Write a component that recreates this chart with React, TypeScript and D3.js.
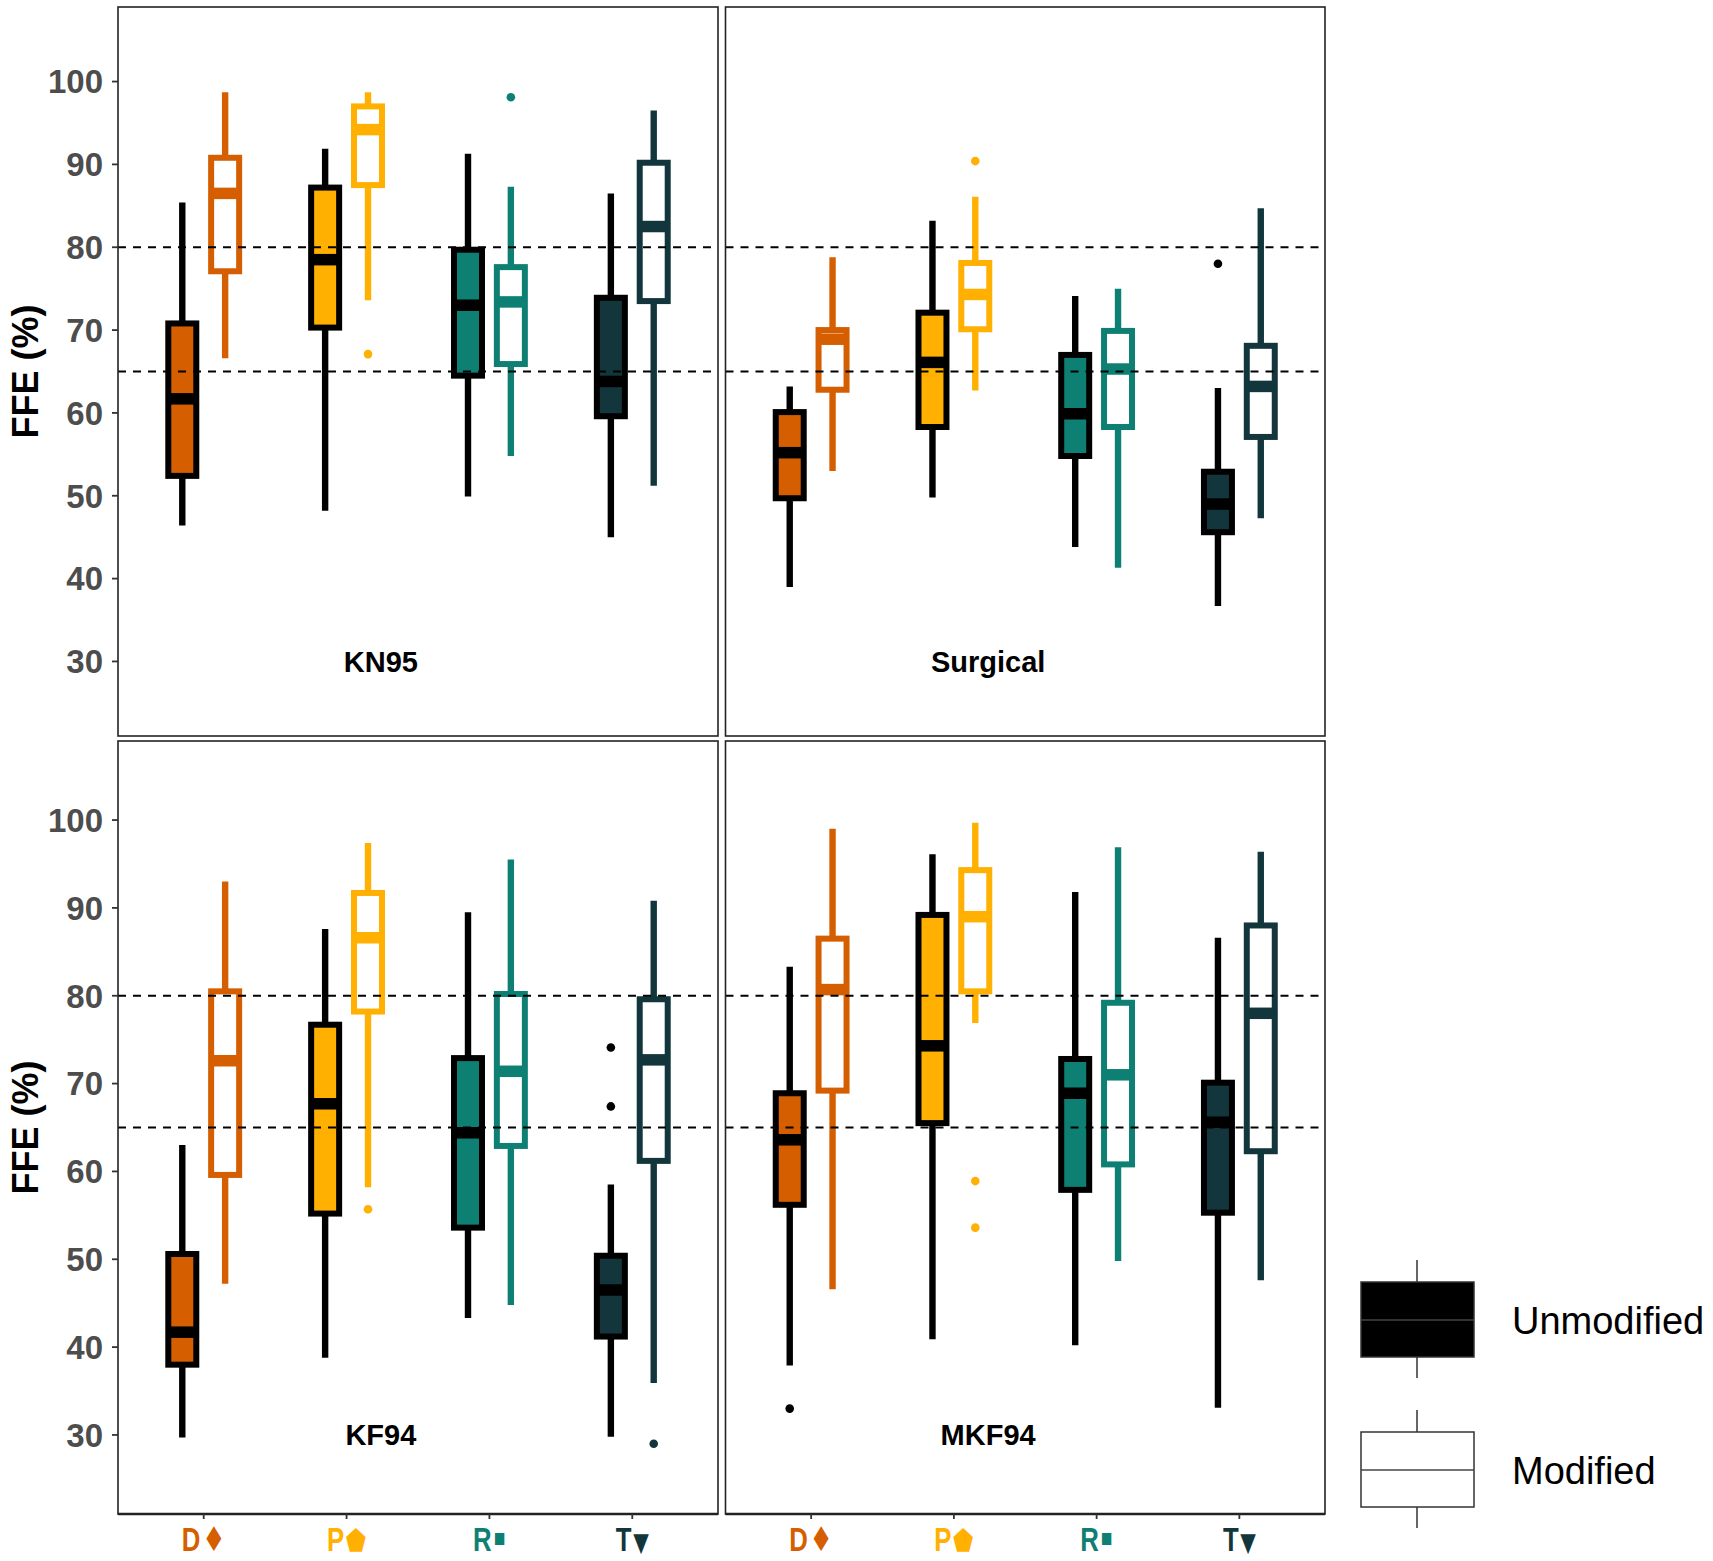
import { useEffect, useRef } from 'react';
import * as d3 from 'd3';

const CATEGORIES = ['D', 'P', 'R', 'T'];
const CATEGORY_SYMBOLS = ['♦', '⬟', '▪', '▼'];
const SYMBOL_SIZES = [34, 30, 24, 26];
const SYMBOL_SHIFT = [0, 0, -6, 0];
const CATEGORY_COLORS = ['#D55E00', '#FFB000', '#0E8073', '#12363C'];
const PANELS = ['KN95', 'Surgical', 'KF94', 'MKF94'];
const Y_TICKS = [30, 40, 50, 60, 70, 80, 90, 100];
const REF_LINES = [65, 80];
const LEGEND_LABELS = ['Unmodified', 'Modified'];

// [lower whisker, q1, median, q3, upper whisker] for D, P, R, T
const KN95_UNMODIFIED = [
  [46.4, 52.4, 61.7, 70.8, 85.4],
  [48.2, 70.3, 78.5, 87.2, 91.9],
  [49.9, 64.5, 73.0, 79.7, 91.3],
  [45.0, 59.6, 63.8, 73.9, 86.5],
];
const KN95_MODIFIED = [
  [66.6, 77.1, 86.5, 90.8, 98.7],
  [73.6, 87.5, 94.2, 97.0, 98.7],
  [54.8, 65.9, 73.4, 77.6, 87.3],
  [51.2, 73.5, 82.5, 90.2, 96.5],
];
const SURGICAL_UNMODIFIED = [
  [39.0, 49.7, 55.2, 60.1, 63.2],
  [49.8, 58.3, 66.1, 72.1, 83.2],
  [43.8, 54.8, 59.9, 67.0, 74.1],
  [36.7, 45.6, 49.0, 52.9, 63.0],
];
const SURGICAL_MODIFIED = [
  [53.0, 62.8, 68.9, 70.0, 78.8],
  [62.7, 70.1, 74.3, 78.1, 86.1],
  [41.3, 58.3, 65.3, 69.9, 75.0],
  [47.3, 57.1, 63.2, 68.1, 84.7],
];
const KF94_UNMODIFIED = [
  [29.7, 38.0, 41.7, 50.6, 63.0],
  [38.8, 55.2, 67.7, 76.7, 87.6],
  [43.3, 53.6, 64.4, 72.9, 89.5],
  [29.8, 41.2, 46.5, 50.4, 58.5],
];
const KF94_MODIFIED = [
  [47.2, 59.6, 72.6, 80.5, 93.0],
  [58.2, 78.2, 86.6, 91.7, 97.4],
  [44.8, 62.9, 71.4, 80.2, 95.5],
  [35.9, 61.2, 72.7, 79.6, 90.8],
];
const MKF94_UNMODIFIED = [
  [37.9, 56.2, 63.6, 68.9, 83.3],
  [40.9, 65.5, 74.3, 89.2, 96.1],
  [40.2, 57.9, 68.9, 72.8, 91.8],
  [33.1, 55.3, 65.6, 70.1, 86.6],
];
const MKF94_MODIFIED = [
  [46.6, 69.2, 80.7, 86.5, 99.0],
  [76.9, 80.5, 89.0, 94.3, 99.7],
  [49.8, 60.8, 71.0, 79.2, 96.9],
  [47.6, 62.3, 78.0, 88.0, 96.4],
];

// outliers as [category index, value]
const KN95_UNMODIFIED_OUT: number[][] = [];
const KN95_MODIFIED_OUT = [[1, 67.1], [2, 98.1]];
const SURGICAL_UNMODIFIED_OUT = [[3, 78.0]];
const SURGICAL_MODIFIED_OUT = [[1, 90.4]];
const KF94_UNMODIFIED_OUT = [[3, 74.1], [3, 67.4]];
const KF94_MODIFIED_OUT = [[1, 55.7], [3, 29.0]];
const MKF94_UNMODIFIED_OUT = [[0, 33.0]];
const MKF94_MODIFIED_OUT = [[1, 58.9], [1, 53.6]];

const PANEL_DATA = [
  { unmod: KN95_UNMODIFIED, mod: KN95_MODIFIED, unmodOut: KN95_UNMODIFIED_OUT, modOut: KN95_MODIFIED_OUT },
  { unmod: SURGICAL_UNMODIFIED, mod: SURGICAL_MODIFIED, unmodOut: SURGICAL_UNMODIFIED_OUT, modOut: SURGICAL_MODIFIED_OUT },
  { unmod: KF94_UNMODIFIED, mod: KF94_MODIFIED, unmodOut: KF94_UNMODIFIED_OUT, modOut: KF94_MODIFIED_OUT },
  { unmod: MKF94_UNMODIFIED, mod: MKF94_MODIFIED, unmodOut: MKF94_UNMODIFIED_OUT, modOut: MKF94_MODIFIED_OUT },
];

const WIDTH = 1713;
const HEIGHT = 1561;
const COLS: [number, number][] = [[118, 718], [725.5, 1325]];
const ROWS: [number, number][] = [[7, 736], [741, 1514]];
const FONT = '"Liberation Sans", Arial, sans-serif';

export default function App() {
  const svgRef = useRef<SVGSVGElement>(null);

  useEffect(() => {
    if (!svgRef.current) return;
    const svg = d3.select(svgRef.current);
    svg.selectAll('*').remove();

    svg.append('rect').attr('width', WIDTH).attr('height', HEIGHT).attr('fill', '#fff');

    PANELS.forEach((name, i) => {
      const col = i % 2;
      const row = Math.floor(i / 2);
      const [x0, x1] = COLS[col];
      const [y0, y1] = ROWS[row];
      const data = PANEL_DATA[i];

      const x = d3.scalePoint<string>().domain(CATEGORIES).range([x0, x1]).padding(0.6);
      const step = x.step();
      const y = d3.scaleLinear().domain([21, 109]).range([y1, y0]);
      const boxW = 0.196 * step;

      const g = svg.append('g');

      const drawGroup = (stats: number[][], outs: number[][], modified: boolean) => {
        const offset = (modified ? 0.15 : -0.15) * step;
        stats.forEach((s, ci) => {
          const [lo, q1, med, q3, hi] = s;
          const cx = (x(CATEGORIES[ci]) as number) + offset;
          const color = CATEGORY_COLORS[ci];
          const line = modified ? color : '#000';

          g.append('line')
            .attr('x1', cx).attr('x2', cx)
            .attr('y1', y(hi)).attr('y2', y(lo))
            .attr('stroke', line).attr('stroke-width', 6.4);

          g.append('rect')
            .attr('x', cx - boxW / 2)
            .attr('y', y(q3))
            .attr('width', boxW)
            .attr('height', y(q1) - y(q3))
            .attr('fill', modified ? '#fff' : color)
            .attr('stroke', line)
            .attr('stroke-width', 6);

          g.append('line')
            .attr('x1', cx - boxW / 2).attr('x2', cx + boxW / 2)
            .attr('y1', y(med)).attr('y2', y(med))
            .attr('stroke', line).attr('stroke-width', 11.5);
        });

        outs.forEach(([ci, v]) => {
          g.append('circle')
            .attr('cx', (x(CATEGORIES[ci]) as number) + offset)
            .attr('cy', y(v))
            .attr('r', 4.3)
            .attr('fill', modified ? CATEGORY_COLORS[ci] : '#000');
        });
      };

      drawGroup(data.unmod, data.unmodOut, false);
      drawGroup(data.mod, data.modOut, true);

      // reference lines
      REF_LINES.forEach((v) => {
        g.append('line')
          .attr('x1', x0).attr('x2', x1)
          .attr('y1', y(v)).attr('y2', y(v))
          .attr('stroke', '#000')
          .attr('stroke-width', 1.8)
          .attr('stroke-dasharray', '8,7');
      });

      // panel label
      const xAnno = d3.scaleLinear().domain([1, 4])
        .range([x(CATEGORIES[0]) as number, x(CATEGORIES[3]) as number]);
      g.append('text')
        .attr('x', xAnno(2.24))
        .attr('y', y(30))
        .attr('dy', '0.35em')
        .attr('text-anchor', 'middle')
        .attr('font-family', FONT)
        .attr('font-weight', 'bold')
        .attr('font-size', 29)
        .attr('fill', '#000')
        .text(name);

      // border
      g.append('rect')
        .attr('x', x0).attr('y', y0)
        .attr('width', x1 - x0).attr('height', y1 - y0)
        .attr('fill', 'none')
        .attr('stroke', '#222')
        .attr('stroke-width', 1.6);

      // y axis on left column
      if (col === 0) {
        Y_TICKS.forEach((t) => {
          g.append('line')
            .attr('x1', x0 - 6).attr('x2', x0)
            .attr('y1', y(t)).attr('y2', y(t))
            .attr('stroke', '#333').attr('stroke-width', 1.8);
          g.append('text')
            .attr('x', x0 - 15)
            .attr('y', y(t))
            .attr('dy', '0.36em')
            .attr('text-anchor', 'end')
            .attr('font-family', FONT)
            .attr('font-weight', 'bold')
            .attr('font-size', 33)
            .attr('fill', '#4D4D4D')
            .text(t);
        });
        g.append('text')
          .attr('transform', `translate(${38},${(y0 + y1) / 2}) rotate(-90)`)
          .attr('text-anchor', 'middle')
          .attr('font-family', FONT)
          .attr('font-weight', 'bold')
          .attr('font-size', 36)
          .attr('fill', '#000')
          .text('FFE (%)');
      }

      // x axis on bottom row
      if (row === 1) {
        g.append('line')
          .attr('x1', x0).attr('x2', x1)
          .attr('y1', y1).attr('y2', y1)
          .attr('stroke', '#222').attr('stroke-width', 2.4);
        CATEGORIES.forEach((c, ci) => {
          const cx = x(c) as number;
          g.append('line')
            .attr('x1', cx).attr('x2', cx)
            .attr('y1', y1).attr('y2', y1 + 5)
            .attr('stroke', '#333').attr('stroke-width', 1.8);
          // condensed label: letter plus marker glyph
          const label = g.append('text')
            .attr('transform', `translate(${cx},${1551}) scale(0.78,1)`)
            .attr('text-anchor', 'middle')
            .attr('font-family', FONT)
            .attr('font-weight', 'bold')
            .attr('font-size', 33)
            .attr('fill', CATEGORY_COLORS[ci]);
          label.append('tspan').text(c);
          label.append('tspan')
            .attr('dx', 2)
            .attr('dy', SYMBOL_SHIFT[ci])
            .attr('font-family', '"DejaVu Sans", sans-serif')
            .attr('font-size', SYMBOL_SIZES[ci])
            .text(CATEGORY_SYMBOLS[ci]);
        });
      }
    });

    // legend
    const legendY = [1320, 1470];
    LEGEND_LABELS.forEach((lab, li) => {
      const cy = legendY[li];
      const lg = svg.append('g');
      lg.append('line')
        .attr('x1', 1417).attr('x2', 1417)
        .attr('y1', cy - 60).attr('y2', cy + 58)
        .attr('stroke', '#333').attr('stroke-width', 1.5);
      lg.append('rect')
        .attr('x', 1361).attr('y', cy - 38)
        .attr('width', 113).attr('height', 75)
        .attr('fill', li === 0 ? '#000' : '#fff')
        .attr('stroke', '#333').attr('stroke-width', 1.5);
      lg.append('line')
        .attr('x1', 1361).attr('x2', 1474)
        .attr('y1', cy).attr('y2', cy)
        .attr('stroke', '#444').attr('stroke-width', 1.5);
      lg.append('text')
        .attr('x', 1512)
        .attr('y', cy)
        .attr('dy', '0.36em')
        .attr('font-family', FONT)
        .attr('font-size', 38)
        .attr('fill', '#000')
        .text(lab);
    });
  }, []);

  return (
    <svg
      ref={svgRef}
      width={WIDTH}
      height={HEIGHT}
      style={{ position: 'absolute', left: 0, top: 0, display: 'block' }}
    />
  );
}
